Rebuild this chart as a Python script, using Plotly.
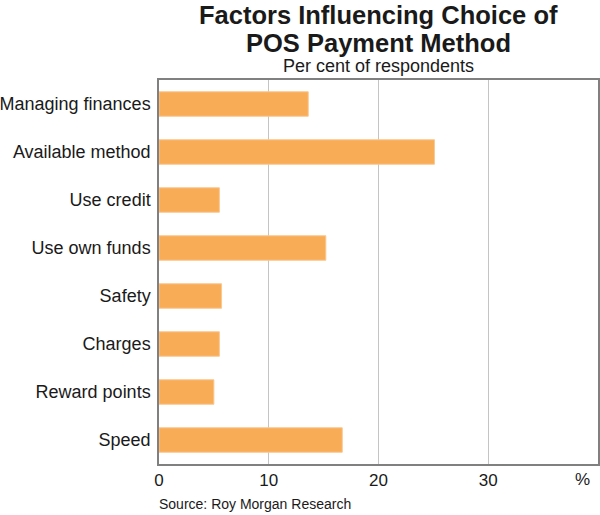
import plotly.graph_objects as go

categories = ["Managing finances", "Available method", "Use credit", "Use own funds",
              "Safety", "Charges", "Reward points", "Speed"]
values = [13.6, 25.1, 5.5, 15.2, 5.7, 5.5, 5.0, 16.7]
x_ticks = [0, 10, 20, 30]

FONT = "Liberation Sans, Arial, sans-serif"
TXT = "#1a1a1a"
fig = go.Figure(go.Bar(
    x=values, y=categories, orientation="h",
    marker=dict(color="#F8AC56", line=dict(color="#FBC890", width=1)),
    hoverinfo="skip",
))

fig.update_layout(
    width=600, height=515,
    margin=dict(l=159, r=2, t=80, b=51),
    plot_bgcolor="white", paper_bgcolor="white",
    bargap=0.49, showlegend=False,
    font=dict(family=FONT, size=17, color=TXT),
)
fig.update_xaxes(
    range=[0, 40], tickvals=x_ticks, ticktext=[str(v) for v in x_ticks],
    showgrid=True, gridcolor="#C4C4C4", gridwidth=1,
    showline=True, linecolor="#808080", linewidth=1.5, mirror=True,
    zeroline=False, ticks="", tickfont=dict(size=17), automargin=False,
)
fig.update_yaxes(
    autorange="reversed", showgrid=False,
    showline=True, linecolor="#808080", linewidth=1.5, mirror=True,
    ticks="", ticklabelstandoff=3, tickfont=dict(size=18), automargin=False,
)

fig.add_annotation(text="<b>Factors Influencing Choice of</b>", xref="paper", yref="paper",
                   x=0.5, y=1, yshift=65, showarrow=False, font=dict(size=25.5, family=FONT, color=TXT),
                   xanchor="center", yanchor="middle")
fig.add_annotation(text="<b>POS Payment Method</b>", xref="paper", yref="paper",
                   x=0.5, y=1, yshift=37, showarrow=False, font=dict(size=25.5, family=FONT, color=TXT),
                   xanchor="center", yanchor="middle")
fig.add_annotation(text="Per cent of respondents", xref="paper", yref="paper",
                   x=0.5, y=1, yshift=14, showarrow=False, font=dict(size=18, family=FONT, color=TXT),
                   xanchor="center", yanchor="middle")
fig.add_annotation(text="%", xref="x", yref="paper", x=38.6, y=0, yshift=-15,
                   showarrow=False, font=dict(size=17, family=FONT, color=TXT),
                   xanchor="center", yanchor="middle")
fig.add_annotation(text="Source: Roy Morgan Research", xref="paper", yref="paper",
                   x=0, y=0, xshift=-2, yshift=-40, showarrow=False,
                   font=dict(size=14, family=FONT, color=TXT),
                   xanchor="left", yanchor="middle")

fig.write_html("out.html", config={"displayModeBar": False},
               post_script="document.body.style.margin='0';document.body.style.padding='0';")
